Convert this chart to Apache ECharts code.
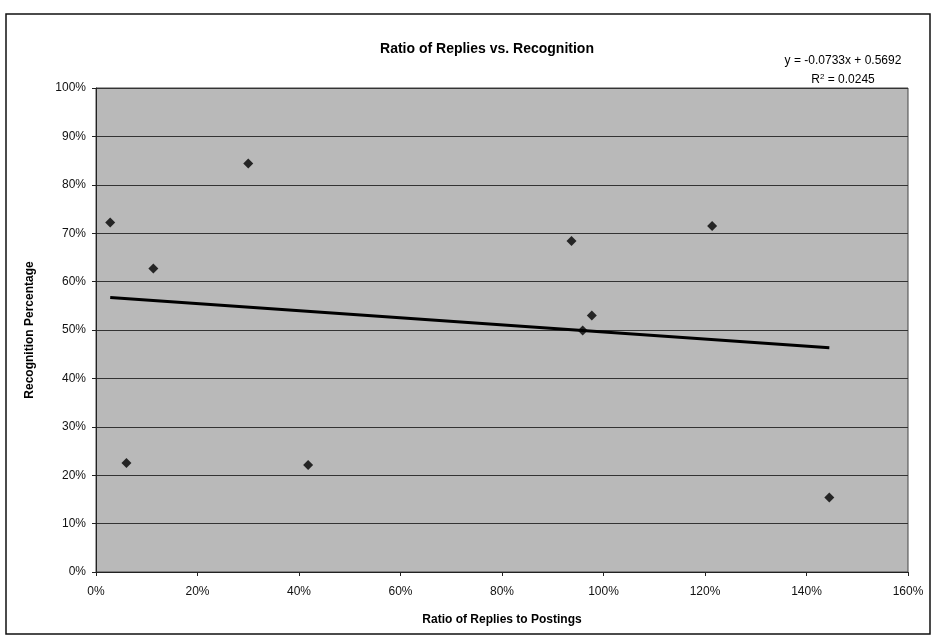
<!DOCTYPE html>
<html>
<head>
<meta charset="utf-8">
<script src="https://cdn.jsdelivr.net/npm/echarts@6/dist/echarts.min.js"></script>
<style>
  html, body { margin: 0; padding: 0; background: #fff; }
  #chart { width: 933px; height: 639px; }
</style>
</head>
<body>
<div id="chart"></div>
<script>
// ratio of replies to postings (x) and recognition percentage (y)
var replyRatio = [0.028, 0.060, 0.113, 0.300, 0.418, 0.937, 0.959, 0.977, 1.214, 1.445];
var recognition = [0.722, 0.225, 0.627, 0.844, 0.221, 0.684, 0.499, 0.530, 0.715, 0.154];
// trendline from the chart
var slope = -0.0733;
var intercept = 0.5692;
var rSquared = '0.0245';

var pct = function (v) {
  return Math.round(v * 100) + '%';
};

var points = [];
for (var i = 0; i < replyRatio.length; i++) {
  points.push([replyRatio[i], recognition[i]]);
}
var xMin = Math.min.apply(null, replyRatio);
var xMax = Math.max.apply(null, replyRatio);
var trend = [[xMin, slope * xMin + intercept], [xMax, slope * xMax + intercept]];

var myChart = echarts.init(document.getElementById('chart'));
var font = 'Liberation Sans, Arial, sans-serif';
var option = {
  animation: false,
  textStyle: { fontFamily: font, color: '#000' },
  title: {
    text: 'Ratio of Replies vs. Recognition',
    left: 482,
    top: 37,
    textAlign: 'center',
    textStyle: { fontSize: 14, fontWeight: 'bold', color: '#000', fontFamily: font }
  },
  graphic: [
    {
      type: 'rect',
      shape: { x: 6, y: 14, width: 924, height: 620 },
      style: { fill: 'none', stroke: '#111', lineWidth: 1.5 }
    },
    {
      type: 'text',
      x: 843,
      y: 55,
      style: {
        text: 'y = -0.0733x + 0.5692',
        font: '12px ' + font,
        fill: '#000',
        align: 'center'
      }
    },
    {
      type: 'text',
      x: 843,
      y: 73,
      style: {
        rich: { sup: { fontSize: 8, verticalAlign: 'top', padding: [0, 0, 6, 0] } },
        text: 'R{sup|2} = ' + rSquared,
        font: '12px ' + font,
        fill: '#000',
        align: 'center'
      }
    }
  ],
  grid: {
    left: 96,
    right: 25,
    top: 88,
    bottom: 67,
    show: true,
    backgroundColor: '#b9b9b9',
    borderColor: '#444',
    borderWidth: 1
  },
  xAxis: {
    type: 'value',
    min: 0,
    max: 1.6,
    interval: 0.2,
    name: 'Ratio of Replies to Postings',
    nameLocation: 'middle',
    nameGap: 42,
    nameTextStyle: { fontSize: 12, fontWeight: 'bold', color: '#000' },
    axisLine: { show: true, lineStyle: { color: '#222', width: 1 } },
    axisTick: { show: true, length: 4, lineStyle: { color: '#222' } },
    axisLabel: { formatter: pct, fontSize: 12, color: '#111', margin: 14 },
    splitLine: { show: false }
  },
  yAxis: {
    type: 'value',
    min: 0,
    max: 1,
    interval: 0.1,
    name: 'Recognition Percentage',
    nameLocation: 'middle',
    nameGap: 60,
    nameTextStyle: { fontSize: 12, fontWeight: 'bold', color: '#000' },
    axisLine: { show: true, lineStyle: { color: '#222', width: 1 } },
    axisTick: { show: true, length: 4, lineStyle: { color: '#222' } },
    axisLabel: { formatter: pct, fontSize: 12, color: '#111', margin: 10 },
    splitLine: { show: true, lineStyle: { color: '#333', width: 1.2 } }
  },
  series: [
    {
      type: 'line',
      data: trend,
      symbol: 'none',
      lineStyle: { color: '#000', width: 3 },
      z: 2
    },
    {
      type: 'scatter',
      data: points,
      symbol: 'diamond',
      symbolSize: 10,
      itemStyle: { color: '#000' },
      z: 3
    }
  ]
};
myChart.setOption(option);
</script>
</body>
</html>
